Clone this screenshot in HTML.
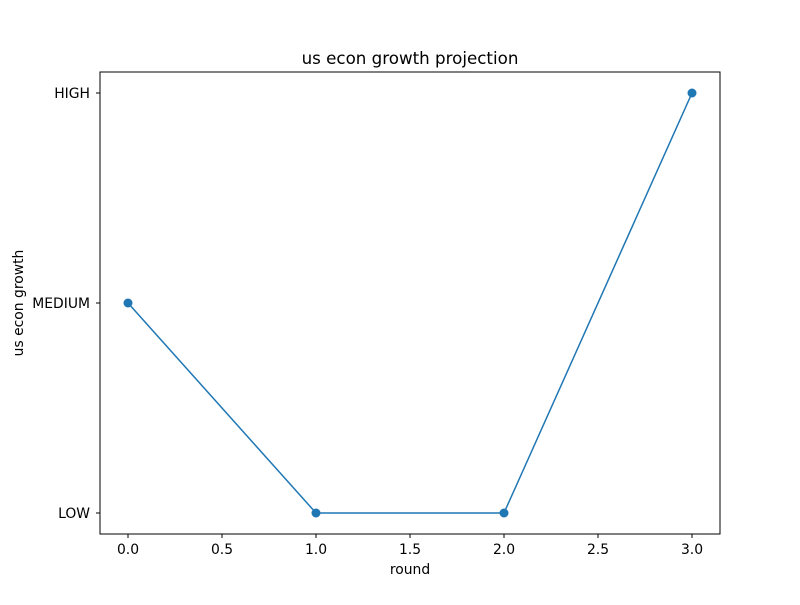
<!DOCTYPE html>
<html><head><meta charset="utf-8"><style>
body{margin:0;background:#fff}
svg{font-family:"DejaVu Sans","Liberation Sans",sans-serif;}
</style></head><body>
<svg id="chart" width="800" height="600">
<rect width="800" height="600" fill="#fff"/>
<text x="410" y="64" text-anchor="middle" font-size="16.7">us econ growth projection</text>
<g id="axes"></g>
<g id="series"></g>
<rect x="100" y="72" width="620" height="462" fill="none" stroke="#000" stroke-width="1"/>
<text x="410" y="574" text-anchor="middle" font-size="13.9">round</text>
<text transform="translate(23,303) rotate(-90)" text-anchor="middle" font-size="13.9">us econ growth</text>
</svg>
<script>
const categories = [0, 1, 2, 3];
const values = [1, 0, 0, 2];
const xTicks = [0, 0.5, 1, 1.5, 2, 2.5, 3];
const xTickLabels = ["0.0","0.5","1.0","1.5","2.0","2.5","3.0"];
const yTicks = [0, 1, 2];
const yTickLabels = ["LOW","MEDIUM","HIGH"];
const NS="http://www.w3.org/2000/svg";
function xs(v){return 128+v*188;}
function ys(v){return 513-v*210;}
const ax=document.getElementById('axes'), se=document.getElementById('series');
function mk(t,a,p){const e=document.createElementNS(NS,t);for(const k in a)e.setAttribute(k,a[k]);p.appendChild(e);return e;}
xTicks.forEach((t,i)=>{
  const l=mk('line',{x1:xs(t),x2:xs(t),y1:534,y2:538,stroke:'#000'},ax);
  
  
  const tx=mk('text',{x:xs(t),y:554,'text-anchor':'middle','font-size':13.9},ax);tx.textContent=xTickLabels[i];
  
  
});
yTicks.forEach((t,i)=>{
  const l=mk('line',{x1:96,x2:100,y1:ys(t),y2:ys(t),stroke:'#000'},ax);
  
  
  const tx=mk('text',{x:90,y:ys(t)+5,'text-anchor':'end','font-size':13.9},ax);tx.textContent=yTickLabels[i];
  
  
});
const pl=mk('polyline',{points:categories.map((c,i)=>xs(c)+','+ys(values[i])).join(' '),fill:'none',stroke:'#1f77b4','stroke-width':1.5},se);


categories.forEach((c,i)=>{
  const p=mk('circle',{cx:xs(c),cy:ys(values[i]),r:4.5,fill:'#1f77b4'},se);
  
  
});
</script>
</body></html>
